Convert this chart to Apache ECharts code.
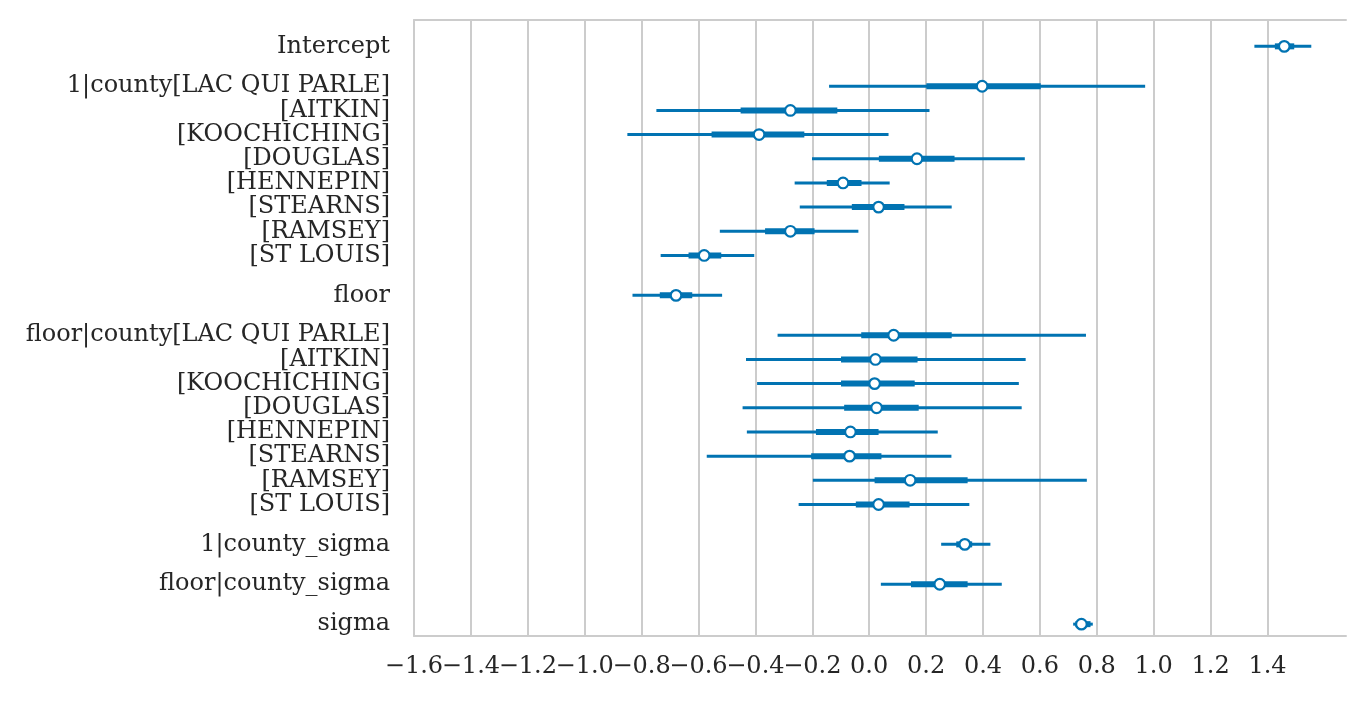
<!DOCTYPE html>
<html lang="en">

<head>
  <meta charset="UTF-8">
  <title>forest plot</title>
  <script src="https://cdn.jsdelivr.net/npm/echarts@6/dist/echarts.min.js"></script>
  <style>
    html, body { margin: 0; padding: 0; background: #fff; }
    #main { width: 1364px; height: 702px; }
  </style>
</head>

<body>
  <div id="main"></div>

  <script type="text/javascript">
    // labels, grouped the way the plot groups its rows
    var groups = [
      ['Intercept'],
      ['1|county[LAC QUI PARLE]', '[AITKIN]', '[KOOCHICHING]', '[DOUGLAS]', '[HENNEPIN]', '[STEARNS]', '[RAMSEY]', '[ST LOUIS]'],
      ['floor'],
      ['floor|county[LAC QUI PARLE]', '[AITKIN]', '[KOOCHICHING]', '[DOUGLAS]', '[HENNEPIN]', '[STEARNS]', '[RAMSEY]', '[ST LOUIS]'],
      ['1|county_sigma'],
      ['floor|county_sigma'],
      ['sigma']
    ];

    // 94% hdi (thin line)
    var hdiLow = [1.354, -0.141, -0.748, -0.850, -0.201, -0.262, -0.244, -0.525, -0.733, -0.832,
      -0.322, -0.433, -0.394, -0.445, -0.430, -0.571, -0.198, -0.248, 0.253, 0.041, 0.717];
    var hdiHigh = [1.554, 0.970, 0.212, 0.068, 0.547, 0.072, 0.290, -0.038, -0.404, -0.517,
      0.762, 0.550, 0.526, 0.536, 0.241, 0.289, 0.765, 0.352, 0.426, 0.466, 0.786];
    // interquartile range (thick line)
    var iqrLow = [1.426, 0.201, -0.452, -0.554, 0.034, -0.149, -0.061, -0.366, -0.635, -0.736,
      -0.028, -0.099, -0.099, -0.088, -0.187, -0.204, 0.019, -0.047, 0.306, 0.147, 0.725];
    var iqrHigh = [1.494, 0.603, -0.112, -0.228, 0.300, -0.027, 0.124, -0.192, -0.520, -0.622,
      0.290, 0.170, 0.160, 0.174, 0.033, 0.043, 0.346, 0.142, 0.362, 0.346, 0.778];
    var median = [1.459, 0.397, -0.277, -0.387, 0.168, -0.092, 0.033, -0.277, -0.580, -0.679,
      0.086, 0.022, 0.019, 0.026, -0.066, -0.069, 0.144, 0.033, 0.336, 0.248, 0.746];

    var xTicks = [-1.6, -1.4, -1.2, -1.0, -0.8, -0.6, -0.4, -0.2, 0.0, 0.2, 0.4, 0.6, 0.8, 1.0, 1.2, 1.4];

    var blue = '#0173B2';
    var grey = '#cccccc';
    var ink = '#262626';
    var font = 'DejaVu Serif';
    var groupGap = 1.65;
    var xMin = -1.6, xMax = 1.676;

    // row positions: 1 between rows of a group, a bit more between groups
    var rowPos = [];
    var rowLabel = [];
    var pos = 0;
    groups.forEach(function (g, gi) {
      if (gi > 0) pos += groupGap;
      g.forEach(function (name, i) {
        if (i > 0) pos += 1;
        rowPos.push(pos);
        rowLabel.push(name);
      });
    });

    var rows = rowPos.map(function (p, i) {
      return [p, hdiLow[i], hdiHigh[i], iqrLow[i], iqrHigh[i], median[i]];
    });

    function labelFor(v) {
      for (var i = 0; i < rowPos.length; i++) {
        if (Math.abs(rowPos[i] - v) < 1e-6) return rowLabel[i];
      }
      return '';
    }

    function fmtTick(v) {
      var s = Math.abs(v).toFixed(1);
      return v < -1e-9 ? '\u2212' + s : s;
    }

    // the tick labels touch each other, so they are split over two bottom axes
    // (echarts would otherwise drop one of them as overlapping)
    var evenTicks = xTicks.filter(function (t, i) { return i % 2 === 0; });
    var oddTicks = xTicks.filter(function (t, i) { return i % 2 === 1; });

    function tickLabel(values) {
      return {
        customValues: values,
        formatter: fmtTick,
        interval: 0,
        showMinLabel: true,
        showMaxLabel: true,
        hideOverlap: false,
        color: ink,
        fontFamily: font,
        fontSize: 24,
        margin: 19
      };
    }

    var myChart = echarts.init(document.getElementById('main'));
    var option = {
      backgroundColor: '#fff',
      animation: false,
      grid: { left: 414, right: 18, top: 20, bottom: 66 },
      xAxis: [{
        type: 'value',
        min: xMin,
        max: xMax,
        axisLine: { show: true, onZero: false, lineStyle: { color: grey, width: 2 } },
        axisTick: { show: false, customValues: xTicks },
        splitLine: { show: true, lineStyle: { color: grey, width: 2 } },
        axisLabel: tickLabel(evenTicks)
      }, {
        type: 'value',
        position: 'top',
        min: xMin,
        max: xMax,
        axisLine: { show: true, onZero: false, lineStyle: { color: grey, width: 2 } },
        axisTick: { show: false },
        axisLabel: { show: false },
        splitLine: { show: false }
      }, {
        type: 'value',
        position: 'bottom',
        min: xMin,
        max: xMax,
        axisLine: { show: false, onZero: false },
        axisTick: { show: false, customValues: oddTicks },
        splitLine: { show: false },
        axisLabel: tickLabel(oddTicks)
      }],
      yAxis: {
        type: 'value',
        inverse: true,
        min: -1.09,
        max: rowPos[rowPos.length - 1] + 0.49,
        axisLine: { show: true, onZero: false, lineStyle: { color: grey, width: 2 } },
        axisTick: { show: false, customValues: rowPos },
        splitLine: { show: false },
        axisLabel: {
          customValues: rowPos,
          formatter: labelFor,
          interval: 0,
          showMinLabel: true,
          showMaxLabel: true,
          hideOverlap: false,
          color: ink,
          fontFamily: font,
          fontSize: 24,
          margin: 24,
          padding: [3, 0, 0, 0]
        }
      },
      series: [{
        type: 'custom',
        xAxisIndex: 0,
        encode: { x: [1, 2, 3, 4, 5], y: 0 },
        data: rows,
        renderItem: function (params, api) {
          var y = api.value(0);
          var a = api.coord([api.value(1), y]);
          var b = api.coord([api.value(2), y]);
          var c = api.coord([api.value(3), y]);
          var d = api.coord([api.value(4), y]);
          var m = api.coord([api.value(5), y]);
          return {
            type: 'group',
            children: [
              { type: 'line', shape: { x1: a[0], y1: a[1], x2: b[0], y2: b[1] },
                style: { stroke: blue, lineWidth: 3 } },
              { type: 'line', shape: { x1: c[0], y1: c[1], x2: d[0], y2: d[1] },
                style: { stroke: blue, lineWidth: 6 } },
              { type: 'circle', shape: { cx: m[0], cy: m[1], r: 5.3 },
                style: { fill: '#fff', stroke: blue, lineWidth: 2.2 } }
            ]
          };
        }
      }]
    };
    myChart.setOption(option);
  </script>
</body>

</html>
